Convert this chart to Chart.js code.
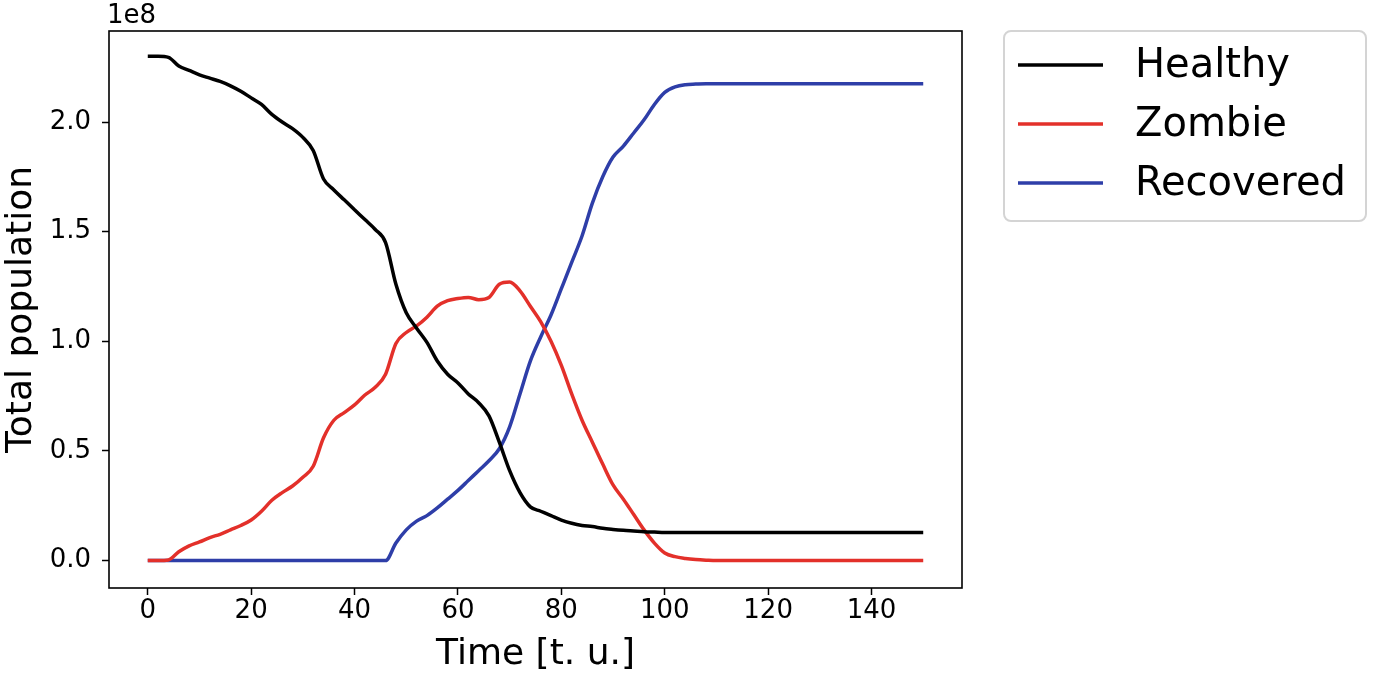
<!DOCTYPE html>
<html>
<head>
<meta charset="utf-8">
<script src="https://cdn.jsdelivr.net/npm/chart.js@4"></script>
<style>
  html, body { margin: 0; padding: 0; background: #fff; }
  #wrap { width: 1375px; height: 676px; }
</style>
</head>
<body>
<div id="wrap"><canvas id="zombie-chart" width="1375" height="676"></canvas></div>
<script>
  "use strict";

  // Time axis (t. u.) and population values in units of 1e8
  var times = [
    0, 2, 4, 6, 8, 10, 12, 14, 16, 18, 20, 22, 24, 26, 28, 30, 32, 34, 36, 38,
    40, 42, 44, 46, 48, 50, 52, 54, 56, 58, 60, 62, 64, 66, 68, 70, 72, 74, 76, 78,
    80, 82, 84, 86, 88, 90, 92, 94, 96, 98, 100, 102, 104, 106, 108, 110,
    120, 130, 140, 150
  ];
  var healthy = [
    2.30, 2.30, 2.295, 2.255, 2.235, 2.215, 2.20, 2.185, 2.165, 2.14,
    2.11, 2.08, 2.035, 2.00, 1.97, 1.93, 1.87, 1.74, 1.69, 1.645,
    1.60, 1.555, 1.51, 1.45, 1.26, 1.13, 1.06, 0.995, 0.91, 0.85,
    0.81, 0.76, 0.72, 0.66, 0.54, 0.41, 0.31, 0.245, 0.225, 0.205,
    0.185, 0.17, 0.16, 0.155, 0.147, 0.142, 0.138, 0.135, 0.132, 0.13,
    0.128, 0.128, 0.128, 0.128, 0.128, 0.128,
    0.128, 0.128, 0.128, 0.128
  ];
  var zombie = [
    0, 0, 0.003, 0.04, 0.067, 0.085, 0.105, 0.12, 0.14, 0.16,
    0.185, 0.225, 0.275, 0.31, 0.34, 0.38, 0.43, 0.56, 0.64, 0.675,
    0.71, 0.755, 0.79, 0.85, 0.99, 1.04, 1.07, 1.11, 1.16, 1.185,
    1.195, 1.20, 1.19, 1.20, 1.26, 1.27, 1.23, 1.16, 1.09, 1.00,
    0.89, 0.76, 0.64, 0.54, 0.44, 0.345, 0.28, 0.21, 0.14, 0.08,
    0.035, 0.018, 0.01, 0.005, 0.002, 0,
    0, 0, 0, 0
  ];
  var recovered = [
    0, 0, 0, 0, 0, 0, 0, 0, 0, 0,
    0, 0, 0, 0, 0, 0, 0, 0, 0, 0,
    0, 0, 0, 0, 0.08, 0.14, 0.18, 0.205, 0.24, 0.28,
    0.32, 0.365, 0.41, 0.455, 0.51, 0.61, 0.76, 0.91, 1.02, 1.12,
    1.24, 1.36, 1.48, 1.63, 1.75, 1.84, 1.89, 1.95, 2.01, 2.08,
    2.135, 2.16, 2.17, 2.173, 2.175, 2.175,
    2.175, 2.175, 2.175, 2.175
  ];
  var seriesNames = ["Healthy", "Zombie", "Recovered"];
  var seriesColors = ["#000000", "#e3302a", "#2e3ea8"];
  var xTicks = [0, 20, 40, 60, 80, 100, 120, 140];
  var yTicks = [0, 0.5, 1.0, 1.5, 2.0];

  var FONT = "'DejaVu Sans', sans-serif";

  function toPoints(values) {
    return values.map(function (v, i) {
      return { x: times[i], y: v };
    });
  }

  // Frame round the plot, the "1e8" offset text and the legend box
  var decorations = {
    id: "decorations",
    afterDraw: function (chart) {
      var ctx = chart.ctx;
      var area = chart.chartArea;
      ctx.save();

      ctx.strokeStyle = "#000";
      ctx.lineWidth = 1.6;
      ctx.strokeRect(area.left, area.top, area.right - area.left, area.bottom - area.top);

      ctx.fillStyle = "#000";
      ctx.font = "26px " + FONT;
      ctx.textAlign = "left";
      ctx.textBaseline = "alphabetic";
      ctx.fillText("1e8", area.left - 2, area.top - 8);

      // legend
      var bx = 1004, by = 31, bw = 362, bh = 190, r = 7;
      ctx.beginPath();
      ctx.moveTo(bx + r, by);
      ctx.arcTo(bx + bw, by, bx + bw, by + bh, r);
      ctx.arcTo(bx + bw, by + bh, bx, by + bh, r);
      ctx.arcTo(bx, by + bh, bx, by, r);
      ctx.arcTo(bx, by, bx + bw, by, r);
      ctx.closePath();
      ctx.fillStyle = "#fff";
      ctx.fill();
      ctx.strokeStyle = "#d4d4d4";
      ctx.lineWidth = 2;
      ctx.stroke();

      ctx.font = "40px " + FONT;
      ctx.textBaseline = "middle";
      chart.data.datasets.forEach(function (ds, i) {
        var y = 65 + i * 59;
        ctx.strokeStyle = ds.borderColor;
        ctx.lineWidth = 3.5;
        ctx.beginPath();
        ctx.moveTo(1018, y);
        ctx.lineTo(1103, y);
        ctx.stroke();
        ctx.fillStyle = "#000";
        ctx.fillText(ds.label, 1135, y + 2);
      });

      ctx.restore();
    },
  };

  var ctx = document.getElementById("zombie-chart").getContext("2d");

  new Chart(ctx, {
    type: "line",
    data: {
      datasets: [healthy, zombie, recovered].map(function (vals, i) {
        return {
          label: seriesNames[i],
          data: toPoints(vals),
          borderColor: seriesColors[i],
          backgroundColor: seriesColors[i],
          borderWidth: 3.5,
          pointRadius: 0,
          fill: false,
          cubicInterpolationMode: "monotone",
        };
      }),
    },
    options: {
      responsive: false,
      animation: false,
      devicePixelRatio: 1,
      layout: {
        padding: { top: 31, right: 413, left: 0, bottom: 0 },
      },
      plugins: {
        legend: { display: false },
        tooltip: { enabled: false },
      },
      scales: {
        x: {
          type: "linear",
          min: -7.5,
          max: 157.5,
          afterBuildTicks: function (scale) {
            scale.ticks = xTicks.map(function (v) { return { value: v }; });
          },
          afterFit: function (scale) {
            scale.height = 88;
          },
          border: { display: false },
          grid: {
            drawOnChartArea: false,
            drawTicks: true,
            tickLength: 7,
            tickWidth: 1.5,
            tickColor: "#000",
          },
          ticks: {
            color: "#000",
            font: { family: FONT, size: 26 },
            padding: 1,
            maxRotation: 0,
            callback: function (v) { return String(v); },
          },
          title: {
            display: true,
            text: "Time [t. u.]",
            color: "#000",
            font: { family: FONT, size: 36 },
            padding: { top: 0, bottom: 0 },
          },
        },
        y: {
          type: "linear",
          min: -0.125,
          max: 2.415,
          afterBuildTicks: function (scale) {
            scale.ticks = yTicks.map(function (v) { return { value: v }; });
          },
          afterFit: function (scale) {
            scale.width = 109;
          },
          border: { display: false },
          grid: {
            drawOnChartArea: false,
            drawTicks: true,
            tickLength: 7,
            tickWidth: 1.5,
            tickColor: "#000",
          },
          ticks: {
            color: "#000",
            font: { family: FONT, size: 26 },
            padding: 11,
            callback: function (v) { return v.toFixed(1); },
          },
          title: {
            display: true,
            text: "Total population",
            color: "#000",
            font: { family: FONT, size: 36 },
            padding: { top: 0, bottom: 0 },
          },
        },
      },
    },
    plugins: [decorations],
  });
</script>
</body>
</html>
